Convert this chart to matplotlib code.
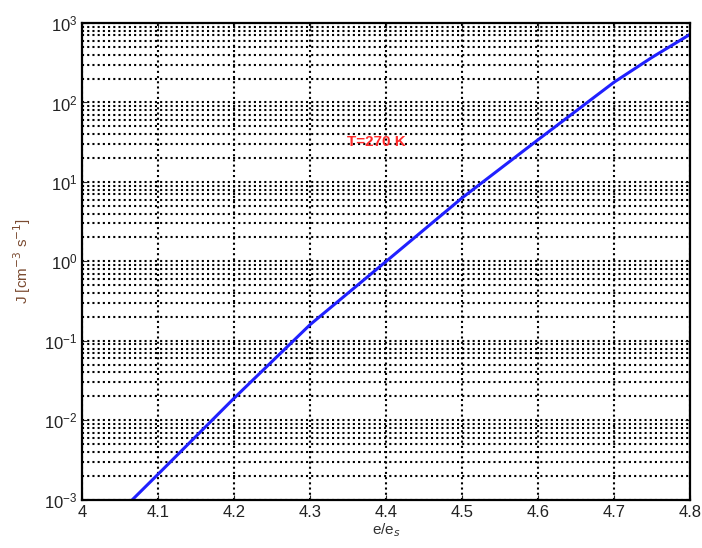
import matplotlib
matplotlib.use("Agg")
import matplotlib.pyplot as plt
from matplotlib.ticker import LogLocator, NullFormatter

plt.rcParams['font.family'] = ['Liberation Sans', 'DejaVu Sans']

# Nucleation rate vs saturation ratio, T = 270 K
e_ratio = [4.066, 4.1, 4.2, 4.3, 4.4, 4.5, 4.6, 4.7, 4.75, 4.8]
J_rate = [1e-3, 2.1e-3, 1.9e-2, 0.16, 1.0, 6.3, 34, 180, 370, 720]

x_ticks = [4, 4.1, 4.2, 4.3, 4.4, 4.5, 4.6, 4.7, 4.8]
x_ticklabels = ['4', '4.1', '4.2', '4.3', '4.4', '4.5', '4.6', '4.7', '4.8']

fig = plt.figure(figsize=(7.02, 5.48), dpi=100)
ax = fig.add_axes([0.117, 0.088, 0.866, 0.870])

ax.semilogy(e_ratio, J_rate, color='#2020ff', linewidth=2.2)

ax.set_xlim(4, 4.8)
ax.set_ylim(1e-3, 1e3)
ax.set_xticks(x_ticks)
ax.set_xticklabels(x_ticklabels)
ax.yaxis.set_major_locator(LogLocator(base=10, numticks=10))
ax.yaxis.set_minor_locator(LogLocator(base=10, subs=range(2, 10), numticks=10))
ax.yaxis.set_minor_formatter(NullFormatter())

# matlab-style dotted grid on every decade subdivision
grid_kw = dict(color='black', linestyle=(0, (1, 1.5)), linewidth=1.5)
ax.grid(True, which='major', axis='both', **grid_kw)
ax.grid(True, which='minor', axis='y', **grid_kw)

ax.tick_params(which='both', direction='in', top=True, right=True, labelsize=12, colors='#222222')
ax.tick_params(which='minor', length=0)
for s in ax.spines.values():
    s.set_linewidth(1.6)

ax.set_xlabel('e/e$_s$', fontsize=11, labelpad=1, color='#333333')
ax.set_ylabel('J [cm$^{-3}$ s$^{-1}$]', fontsize=11, color='#7a4a30', labelpad=8)

ax.text(4.387, 31.6, 'T=270 K', color='#ff2a2a', fontsize=11, fontweight='bold',
        ha='center', va='center')

fig.savefig('out.png', dpi=100)
